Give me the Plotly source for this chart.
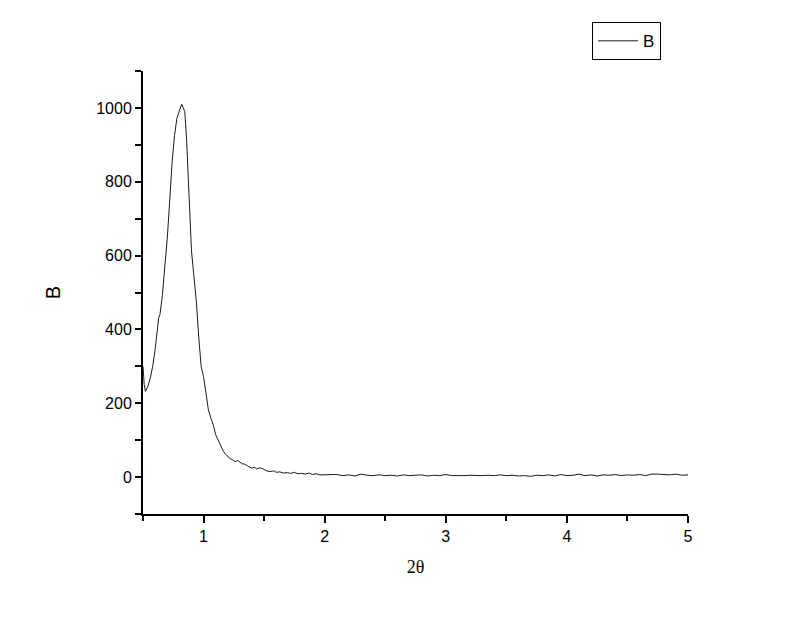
import plotly.graph_objects as go

# scan 2theta (deg) and intensity B
peak_theta = [0.50, 0.51, 0.52, 0.54, 0.56, 0.58, 0.60, 0.62, 0.63, 0.64, 0.66, 0.68, 0.70,
              0.72, 0.74, 0.76, 0.78, 0.80, 0.82, 0.83, 0.845, 0.86, 0.88, 0.90, 0.92, 0.94,
              0.96, 0.98, 1.00, 1.02, 1.04, 1.06, 1.08, 1.10, 1.12, 1.14, 1.16, 1.18, 1.20,
              1.22, 1.24, 1.26, 1.28, 1.30, 1.32, 1.34, 1.36, 1.38, 1.40, 1.42, 1.44, 1.46,
              1.48, 1.50, 1.52, 1.55, 1.58, 1.60, 1.63, 1.66, 1.69, 1.72, 1.75, 1.78, 1.81,
              1.84, 1.87, 1.90, 1.93, 1.96]
peak_b = [300, 250, 232, 245, 268, 300, 345, 405, 432, 440, 492, 570, 645,
          745, 852, 925, 972, 992, 1010, 1002, 990, 915, 770, 615, 545, 478,
          380, 300, 272, 220, 182, 160, 142, 115, 100, 86, 72, 62, 55,
          50, 47, 42, 45, 40, 36, 35, 30, 27, 24, 27, 22, 25,
          24, 20, 17, 15, 17, 13, 14, 11, 12, 10, 13, 9, 10,
          8, 11, 7, 9, 6]

tail_theta = [2.00, 2.05, 2.10, 2.15, 2.20, 2.25, 2.30, 2.35, 2.40, 2.45, 2.50, 2.55, 2.60,
              2.65, 2.70, 2.75, 2.80, 2.85, 2.90, 2.95, 3.00, 3.05, 3.10, 3.15, 3.20, 3.25,
              3.30, 3.35, 3.40, 3.45, 3.50, 3.55, 3.60, 3.65, 3.70, 3.75, 3.80, 3.85, 3.90,
              3.95, 4.00, 4.05, 4.10, 4.15, 4.20, 4.25, 4.30, 4.35, 4.40, 4.45, 4.50, 4.55,
              4.60, 4.65, 4.70, 4.75, 4.80, 4.85, 4.90, 4.95, 5.00]
tail_b = [6, 5, 7, 4, 6, 3, 8, 5, 4, 6, 4, 5, 3,
          6, 4, 5, 6, 3, 5, 4, 7, 4, 3, 4, 5, 4,
          4, 5, 4, 6, 4, 5, 3, 4, 2, 5, 4, 6, 3,
          7, 4, 5, 8, 4, 6, 3, 6, 5, 7, 4, 6, 5,
          7, 4, 8, 8, 7, 6, 8, 5, 6]

two_theta = peak_theta + tail_theta
intensity = peak_b + tail_b

fig = go.Figure(
    go.Scatter(x=two_theta, y=intensity, mode="lines", name="B",
               line=dict(color="#1a1a1a", width=1))
)

sans = "Liberation Sans, Arial, sans-serif"
axis_font = dict(family=sans, size=16, color="black")
fig.update_layout(
    width=800, height=617,
    paper_bgcolor="white", plot_bgcolor="white",
    margin=dict(l=135, r=120, t=63, b=111, autoexpand=False),
    showlegend=True,
    legend=dict(x=0.824, y=1.11, xanchor="left", yanchor="top",
                bordercolor="black", borderwidth=1, bgcolor="white",
                font=dict(family=sans, size=17, color="black"),
                itemwidth=40, tracegroupgap=0),
)
fig.update_xaxes(
    range=[0.5, 5], dtick=1, tick0=0, showgrid=False, zeroline=False,
    showline=True, linecolor="black", linewidth=2,
    ticks="outside", ticklen=7, tickwidth=2, tickcolor="black",
    minor=dict(dtick=0.5, tick0=0, ticks="outside", ticklen=5, tickwidth=2, tickcolor="black"),
    tickfont=axis_font,
    title=dict(text="2θ", font=dict(family="Liberation Serif, Times New Roman, serif",
                                     size=18, color="black"), standoff=16),
)
fig.update_yaxes(
    range=[-100, 1100], dtick=200, tick0=0, showgrid=False, zeroline=False,
    showline=True, linecolor="black", linewidth=2,
    ticks="outside", ticklen=6, tickwidth=2, tickcolor="black",
    minor=dict(dtick=100, tick0=0, ticks="outside", ticklen=6, tickwidth=2, tickcolor="black"),
    tickfont=axis_font,
    title=dict(text="B", font=dict(family=sans, size=20, color="black"), standoff=30),
)

fig.write_html("out.html")
